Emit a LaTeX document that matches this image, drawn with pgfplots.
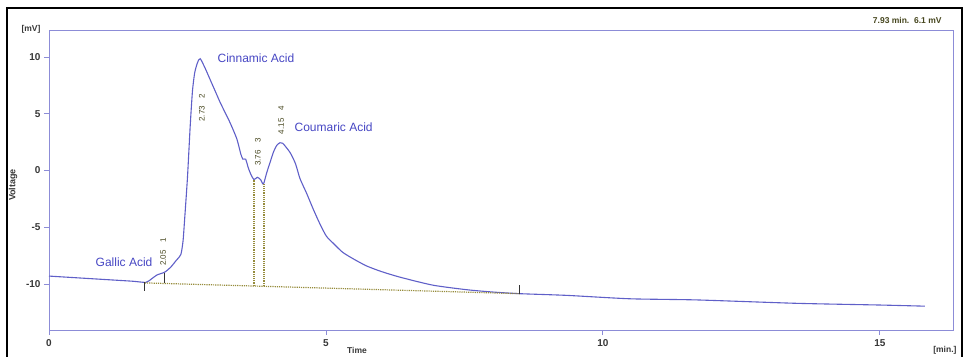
\documentclass[border=0pt]{standalone}
\usepackage{pgfplots}
\pgfplotsset{compat=1.18}
\usepackage{fontspec}
\setmainfont{Liberation Sans}
\definecolor{curve}{RGB}{95,95,200}
\definecolor{axc}{RGB}{140,140,215}
\definecolor{lab}{RGB}{70,70,195}
\definecolor{dotc}{RGB}{150,140,60}
\definecolor{pk}{RGB}{70,70,30}
\definecolor{tk}{RGB}{55,55,55}
\begin{document}
\begin{tikzpicture}[x=1pt,y=1pt]
\path[use as bounding box] (0,0) rectangle (965,356);
\draw[black, line width=1.5pt] (7,-5) -- (7,348) -- (962,348) -- (962,-5);
\node[font=\bfseries\fontsize{8.5}{10}\selectfont, text=tk] at (31,327) {[mV]};
\node[font=\bfseries\fontsize{8.5}{10}\selectfont, text=pk, anchor=east] at (945,336) {7.93 min.\ \ 6.1 mV};
\node[font=\bfseries\fontsize{8.5}{10}\selectfont, text=tk, anchor=east] at (960,6) {[min.]};
\node[font=\bfseries\fontsize{8.5}{10}\selectfont, text=tk] at (357,6) {Time};
\node[font=\bfseries\fontsize{9}{10}\selectfont, text=tk, rotate=90] at (13,171) {Voltage};
\begin{axis}[at={(49pt,26pt)}, anchor=south west, scale only axis,
  width=904pt, height=300pt,
  xmin=0, xmax=16.32, ymin=-14.05, ymax=12.38,
  axis line style={axc, line width=0.9pt},
  xtick={0,5,10,15}, ytick={-10,-5,0,5,10},
  tick pos=left,
  tick align=outside, major tick length=5pt,
  tick style={axc, line width=0.9pt},
  tick label style={font=\bfseries\fontsize{10}{12}\selectfont, text=tk},
  /pgf/number format/assume math mode=true,
  xticklabel style={yshift=-1pt},
  clip=false]
\addplot[curve, line width=1.1pt, smooth, tension=0.4] coordinates {
(0,-9.3) (0.5,-9.45) (1.0,-9.6) (1.5,-9.75) (1.75,-9.85) (1.85,-9.55) (1.95,-9.2)
(2.09,-8.95) (2.2,-8.5) (2.3,-7.9) (2.38,-7.4) (2.42,-6.2) (2.45,-4.2) (2.5,-0.6)
(2.55,4.0) (2.59,7.0) (2.63,8.6) (2.68,9.5) (2.73,9.85) (2.82,9.0) (2.91,8.0) (3.0,7.0)
(3.09,6.0) (3.18,5.1) (3.27,4.2) (3.39,2.8) (3.46,1.5) (3.50,1.0) (3.55,1.0)
(3.60,0.2) (3.65,-0.4) (3.70,-0.8) (3.76,-0.6) (3.82,-0.8) (3.87,-1.2) (3.93,-0.2)
(3.99,0.7) (4.05,1.6) (4.11,2.2) (4.17,2.45) (4.22,2.4) (4.35,1.6) (4.45,0.6)
(4.53,-0.7) (4.65,-2.0) (4.77,-3.4) (4.9,-4.8) (5.01,-5.8) (5.13,-6.4) (5.3,-7.2)
(5.5,-7.8) (5.73,-8.4) (6.0,-8.9) (6.34,-9.4) (6.93,-10.1) (7.54,-10.5) (8.0,-10.7)
(8.5,-10.85) (9.35,-11.0) (10.49,-11.3) (11.69,-11.4) (13.5,-11.7) (15.0,-11.85) (15.81,-11.95)
};
% baseline and drop lines
\addplot[dotc, line width=1.2pt, densely dotted] coordinates {(1.73,-9.9) (8.5,-10.85)};
\addplot[dotc, line width=1.2pt, densely dotted] coordinates {(3.70,-10.15) (3.70,-0.8)};
\addplot[dotc, line width=1.2pt, densely dotted] coordinates {(3.88,-10.18) (3.88,-1.2)};
% peak start/end markers
\addplot[black!80, line width=1pt] coordinates {(1.73,-9.8) (1.73,-10.6)};
\addplot[black!80, line width=1pt] coordinates {(2.09,-9.0) (2.09,-9.95)};
\addplot[black!80, line width=1pt] coordinates {(8.5,-10.1) (8.5,-10.85)};
% compound labels
\node[text=lab, font=\fontsize{12}{14}\selectfont, anchor=west] at (axis cs:2.98,9.9) {Cinnamic Acid};
\node[text=lab, font=\fontsize{12}{14}\selectfont, anchor=west] at (axis cs:4.37,3.8) {Coumaric Acid};
\node[text=lab, font=\fontsize{12}{14}\selectfont, anchor=east] at (axis cs:1.93,-8.05) {Gallic Acid};
% peak labels
\node[text=pk, font=\fontsize{8}{9}\selectfont, rotate=90, anchor=west] at (axis cs:2.06,-8.7) {2.05\hspace{8pt}1};
\node[text=pk, font=\fontsize{8}{9}\selectfont, rotate=90, anchor=west] at (axis cs:2.76,4.0) {2.73\hspace{8pt}2};
\node[text=pk, font=\fontsize{8}{9}\selectfont, rotate=90, anchor=west] at (axis cs:3.77,0.1) {3.76\hspace{8pt}3};
\node[text=pk, font=\fontsize{8}{9}\selectfont, rotate=90, anchor=west] at (axis cs:4.19,2.9) {4.15\hspace{8pt}4};
\end{axis}
\end{tikzpicture}
\end{document}
